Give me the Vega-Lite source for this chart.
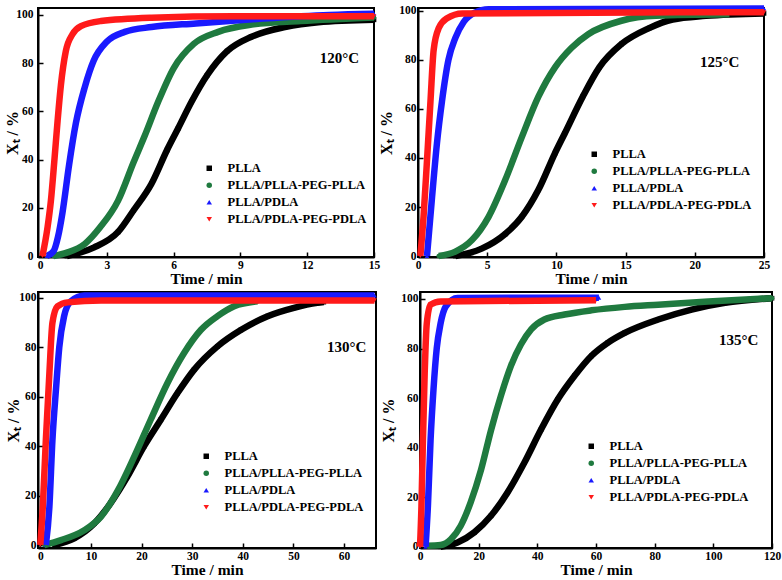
{
"$schema": "https://vega.github.io/schema/vega-lite/v6.json",
"background": "white",
"padding": {"left": 3, "top": -6, "right": 0, "bottom": 0},
"config": {
  "font": "Liberation Serif",
  "view": {"stroke": "black", "strokeWidth": 2},
  "axis": {"grid": false, "domainColor": "black", "domainWidth": 2, "tickColor": "black", "tickWidth": 1.5, "tickSize": -5,
    "labelFont": "Liberation Serif", "labelFontWeight": "bold", "labelFontSize": 11.5, "labelColor": "black", "labelPadding": 7,
    "labelFlush": false, "labelOverlap": false,
    "titleFont": "Liberation Serif", "titleFontWeight": "bold", "titleColor": "black"},
  "axisX": {"titleFontSize": 15.5, "titlePadding": 1},
  "axisY": {"titleFontSize": 16, "titlePadding": 4},
  "legend": {"labelFont": "Liberation Serif", "labelFontWeight": "bold", "labelFontSize": 12.5, "labelColor": "black",
    "symbolSize": 30, "symbolStrokeWidth": 0, "rowPadding": 4, "labelOffset": 12, "padding": 0}
},
"datasets": {
  "p120": [
    {"s":"PLLA","t":1.2,"x":0},{"s":"PLLA","t":2.4,"x":3.5},{"s":"PLLA","t":3.5,"x":10},{"s":"PLLA","t":4.2,"x":19},{"s":"PLLA","t":5.0,"x":30},{"s":"PLLA","t":5.7,"x":44},{"s":"PLLA","t":6.2,"x":53},{"s":"PLLA","t":6.8,"x":64},{"s":"PLLA","t":7.5,"x":75},{"s":"PLLA","t":8.4,"x":85},{"s":"PLLA","t":9.5,"x":91},{"s":"PLLA","t":11,"x":95},{"s":"PLLA","t":12.5,"x":97},{"s":"PLLA","t":15,"x":98},
    {"s":"PLLA/PLLA-PEG-PLLA","t":0.6,"x":0},{"s":"PLLA/PLLA-PEG-PLLA","t":1.2,"x":1.4},{"s":"PLLA/PLLA-PEG-PLLA","t":2.0,"x":5},{"s":"PLLA/PLLA-PEG-PLLA","t":2.7,"x":12},{"s":"PLLA/PLLA-PEG-PLLA","t":3.5,"x":23},{"s":"PLLA/PLLA-PEG-PLLA","t":4.2,"x":39},{"s":"PLLA/PLLA-PEG-PLLA","t":4.7,"x":50},{"s":"PLLA/PLLA-PEG-PLLA","t":5.3,"x":64},{"s":"PLLA/PLLA-PEG-PLLA","t":6.0,"x":78},{"s":"PLLA/PLLA-PEG-PLLA","t":6.9,"x":88},{"s":"PLLA/PLLA-PEG-PLLA","t":8,"x":93},{"s":"PLLA/PLLA-PEG-PLLA","t":9.5,"x":96},{"s":"PLLA/PLLA-PEG-PLLA","t":11.7,"x":97.5},{"s":"PLLA/PLLA-PEG-PLLA","t":15,"x":99},
    {"s":"PLLA/PDLA","t":0.3,"x":0},{"s":"PLLA/PDLA","t":0.6,"x":2},{"s":"PLLA/PDLA","t":0.8,"x":8},{"s":"PLLA/PDLA","t":1.0,"x":18},{"s":"PLLA/PDLA","t":1.3,"x":38},{"s":"PLLA/PDLA","t":1.6,"x":55},{"s":"PLLA/PDLA","t":2.0,"x":70},{"s":"PLLA/PDLA","t":2.4,"x":81},{"s":"PLLA/PDLA","t":3.0,"x":89},{"s":"PLLA/PDLA","t":3.8,"x":93},{"s":"PLLA/PDLA","t":5,"x":95},{"s":"PLLA/PDLA","t":7,"x":96.5},{"s":"PLLA/PDLA","t":10,"x":98.5},{"s":"PLLA/PDLA","t":13,"x":100},{"s":"PLLA/PDLA","t":15,"x":100.5},
    {"s":"PLLA/PDLA-PEG-PDLA","t":0.1,"x":0},{"s":"PLLA/PDLA-PEG-PDLA","t":0.33,"x":12},{"s":"PLLA/PDLA-PEG-PDLA","t":0.48,"x":23},{"s":"PLLA/PDLA-PEG-PDLA","t":0.63,"x":39},{"s":"PLLA/PDLA-PEG-PDLA","t":0.78,"x":56},{"s":"PLLA/PDLA-PEG-PDLA","t":0.93,"x":71},{"s":"PLLA/PDLA-PEG-PDLA","t":1.15,"x":85},{"s":"PLLA/PDLA-PEG-PDLA","t":1.45,"x":92},{"s":"PLLA/PDLA-PEG-PDLA","t":1.83,"x":95.4},{"s":"PLLA/PDLA-PEG-PDLA","t":2.73,"x":97.5},{"s":"PLLA/PDLA-PEG-PDLA","t":5,"x":98.9},{"s":"PLLA/PDLA-PEG-PDLA","t":8.7,"x":99.5},{"s":"PLLA/PDLA-PEG-PDLA","t":15,"x":99.5}
  ],
  "p125": [
    {"s":"PLLA","t":2.7,"x":0},{"s":"PLLA","t":4.6,"x":3},{"s":"PLLA","t":6.3,"x":9},{"s":"PLLA","t":7.5,"x":16},{"s":"PLLA","t":8.7,"x":27},{"s":"PLLA","t":9.9,"x":42},{"s":"PLLA","t":10.6,"x":50},{"s":"PLLA","t":11.9,"x":65},{"s":"PLLA","t":13.1,"x":77},{"s":"PLLA","t":14.7,"x":86.5},{"s":"PLLA","t":16.7,"x":93},{"s":"PLLA","t":18.4,"x":96.5},{"s":"PLLA","t":20.8,"x":98},{"s":"PLLA","t":25,"x":99},
    {"s":"PLLA/PLLA-PEG-PLLA","t":1.5,"x":0},{"s":"PLLA/PLLA-PEG-PLLA","t":2.7,"x":1.8},{"s":"PLLA/PLLA-PEG-PLLA","t":3.9,"x":6.5},{"s":"PLLA/PLLA-PEG-PLLA","t":5.1,"x":16},{"s":"PLLA/PLLA-PEG-PLLA","t":6.3,"x":31},{"s":"PLLA/PLLA-PEG-PLLA","t":7.5,"x":48.5},{"s":"PLLA/PLLA-PEG-PLLA","t":8.7,"x":65},{"s":"PLLA/PLLA-PEG-PLLA","t":9.9,"x":77},{"s":"PLLA/PLLA-PEG-PLLA","t":11.1,"x":85},{"s":"PLLA/PLLA-PEG-PLLA","t":12.3,"x":90.5},{"s":"PLLA/PLLA-PEG-PLLA","t":14.7,"x":96},{"s":"PLLA/PLLA-PEG-PLLA","t":17.2,"x":98},{"s":"PLLA/PLLA-PEG-PLLA","t":22.5,"x":98.6},
    {"s":"PLLA/PDLA","t":0.65,"x":0},{"s":"PLLA/PDLA","t":1.0,"x":23},{"s":"PLLA/PDLA","t":1.37,"x":46},{"s":"PLLA/PDLA","t":1.73,"x":63},{"s":"PLLA/PDLA","t":2.2,"x":80},{"s":"PLLA/PDLA","t":2.7,"x":89},{"s":"PLLA/PDLA","t":3.3,"x":95.5},{"s":"PLLA/PDLA","t":4.1,"x":99.3},{"s":"PLLA/PDLA","t":5.1,"x":100.7},{"s":"PLLA/PDLA","t":25,"x":101},
    {"s":"PLLA/PDLA-PEG-PDLA","t":0.17,"x":0},{"s":"PLLA/PDLA-PEG-PDLA","t":0.4,"x":16},{"s":"PLLA/PDLA-PEG-PDLA","t":0.65,"x":39},{"s":"PLLA/PDLA-PEG-PDLA","t":0.9,"x":63},{"s":"PLLA/PDLA-PEG-PDLA","t":1.13,"x":84},{"s":"PLLA/PDLA-PEG-PDLA","t":1.5,"x":93},{"s":"PLLA/PDLA-PEG-PDLA","t":2.1,"x":97},{"s":"PLLA/PDLA-PEG-PDLA","t":3.2,"x":99},{"s":"PLLA/PDLA-PEG-PDLA","t":25,"x":99.5}
  ],
  "p130": [
    {"s":"PLLA","t":2.8,"x":0},{"s":"PLLA","t":6.7,"x":2.7},{"s":"PLLA","t":10.7,"x":8.8},{"s":"PLLA","t":13.9,"x":17},{"s":"PLLA","t":17.2,"x":27.7},{"s":"PLLA","t":20.5,"x":40},{"s":"PLLA","t":23.8,"x":50.7},{"s":"PLLA","t":27.1,"x":61.5},{"s":"PLLA","t":30.4,"x":71},{"s":"PLLA","t":35,"x":80.4},{"s":"PLLA","t":39.6,"x":87},{"s":"PLLA","t":44.9,"x":92.6},{"s":"PLLA","t":50.1,"x":96},{"s":"PLLA","t":54.7,"x":98},{"s":"PLLA","t":56,"x":98.3},
    {"s":"PLLA/PLLA-PEG-PLLA","t":0.8,"x":0},{"s":"PLLA/PLLA-PEG-PLLA","t":4.1,"x":2},{"s":"PLLA/PLLA-PEG-PLLA","t":8.7,"x":6},{"s":"PLLA/PLLA-PEG-PLLA","t":12,"x":11.5},{"s":"PLLA/PLLA-PEG-PLLA","t":15.3,"x":22},{"s":"PLLA/PLLA-PEG-PLLA","t":18.6,"x":36},{"s":"PLLA/PLLA-PEG-PLLA","t":21.8,"x":50.7},{"s":"PLLA/PLLA-PEG-PLLA","t":25.1,"x":65.5},{"s":"PLLA/PLLA-PEG-PLLA","t":28.4,"x":77.7},{"s":"PLLA/PLLA-PEG-PLLA","t":31.7,"x":87},{"s":"PLLA/PLLA-PEG-PLLA","t":35,"x":92.6},{"s":"PLLA/PLLA-PEG-PLLA","t":38.3,"x":96.6},{"s":"PLLA/PLLA-PEG-PLLA","t":42.9,"x":98.6},
    {"s":"PLLA/PDLA","t":1.1,"x":0},{"s":"PLLA/PDLA","t":1.8,"x":15.5},{"s":"PLLA/PDLA","t":2.4,"x":42.5},{"s":"PLLA/PDLA","t":3.1,"x":63},{"s":"PLLA/PDLA","t":3.75,"x":80},{"s":"PLLA/PDLA","t":4.7,"x":92.6},{"s":"PLLA/PDLA","t":6,"x":98.6},{"s":"PLLA/PDLA","t":8.7,"x":101},{"s":"PLLA/PDLA","t":66,"x":101},
    {"s":"PLLA/PDLA-PEG-PDLA","t":0,"x":0},{"s":"PLLA/PDLA-PEG-PDLA","t":0.5,"x":15.5},{"s":"PLLA/PDLA-PEG-PDLA","t":1.1,"x":42.5},{"s":"PLLA/PDLA-PEG-PDLA","t":1.8,"x":69.6},{"s":"PLLA/PDLA-PEG-PDLA","t":2.4,"x":90},{"s":"PLLA/PDLA-PEG-PDLA","t":3.4,"x":96.6},{"s":"PLLA/PDLA-PEG-PDLA","t":5.4,"x":98.2},{"s":"PLLA/PDLA-PEG-PDLA","t":12,"x":99},{"s":"PLLA/PDLA-PEG-PDLA","t":66,"x":99}
  ],
  "p135": [
    {"s":"PLLA","t":7,"x":0},{"s":"PLLA","t":12.8,"x":1.7},{"s":"PLLA","t":18.5,"x":5.8},{"s":"PLLA","t":24.2,"x":12.5},{"s":"PLLA","t":29.9,"x":22},{"s":"PLLA","t":35.6,"x":34},{"s":"PLLA","t":41.3,"x":47.4},{"s":"PLLA","t":47,"x":59.5},{"s":"PLLA","t":52.7,"x":69},{"s":"PLLA","t":58.4,"x":77},{"s":"PLLA","t":64,"x":82.3},{"s":"PLLA","t":69.8,"x":86.3},{"s":"PLLA","t":81.2,"x":91.7},{"s":"PLLA","t":92.6,"x":95.7},{"s":"PLLA","t":104,"x":98.4},{"s":"PLLA","t":120,"x":100.3},
    {"s":"PLLA/PLLA-PEG-PLLA","t":2.5,"x":0.4},{"s":"PLLA/PLLA-PEG-PLLA","t":7,"x":0.7},{"s":"PLLA/PLLA-PEG-PLLA","t":10.5,"x":3},{"s":"PLLA/PLLA-PEG-PLLA","t":13.9,"x":8.5},{"s":"PLLA/PLLA-PEG-PLLA","t":17.3,"x":18},{"s":"PLLA/PLLA-PEG-PLLA","t":20.8,"x":31},{"s":"PLLA/PLLA-PEG-PLLA","t":24.2,"x":47},{"s":"PLLA/PLLA-PEG-PLLA","t":27.6,"x":61},{"s":"PLLA/PLLA-PEG-PLLA","t":31,"x":73},{"s":"PLLA/PLLA-PEG-PLLA","t":34.4,"x":81.6},{"s":"PLLA/PLLA-PEG-PLLA","t":37.9,"x":87.7},{"s":"PLLA/PLLA-PEG-PLLA","t":42.4,"x":91.7},{"s":"PLLA/PLLA-PEG-PLLA","t":49.3,"x":93.7},{"s":"PLLA/PLLA-PEG-PLLA","t":58.4,"x":95.4},{"s":"PLLA/PLLA-PEG-PLLA","t":69.8,"x":96.8},{"s":"PLLA/PLLA-PEG-PLLA","t":81.2,"x":97.7},{"s":"PLLA/PLLA-PEG-PLLA","t":98.3,"x":99},{"s":"PLLA/PLLA-PEG-PLLA","t":120,"x":100.3},
    {"s":"PLLA/PDLA","t":1.9,"x":0},{"s":"PLLA/PDLA","t":2.7,"x":16.5},{"s":"PLLA/PDLA","t":3.6,"x":43},{"s":"PLLA/PDLA","t":4.6,"x":63.5},{"s":"PLLA/PDLA","t":5.7,"x":80},{"s":"PLLA/PDLA","t":7,"x":90},{"s":"PLLA/PDLA","t":8.8,"x":97},{"s":"PLLA/PDLA","t":12.8,"x":100.4},{"s":"PLLA/PDLA","t":61,"x":100.5},
    {"s":"PLLA/PDLA-PEG-PDLA","t":0,"x":0},{"s":"PLLA/PDLA-PEG-PDLA","t":0.5,"x":16.5},{"s":"PLLA/PDLA-PEG-PDLA","t":1,"x":43},{"s":"PLLA/PDLA-PEG-PDLA","t":1.6,"x":70},{"s":"PLLA/PDLA-PEG-PDLA","t":2.3,"x":90},{"s":"PLLA/PDLA-PEG-PDLA","t":3.6,"x":97.7},{"s":"PLLA/PDLA-PEG-PDLA","t":7,"x":99},{"s":"PLLA/PDLA-PEG-PDLA","t":60,"x":99.5}
  ]
},
"spacing": -7,
"resolve": {"scale": {"color": "independent", "shape": "independent"}, "legend": {"color": "independent", "shape": "independent"}},
"vconcat": [
 {"spacing": -11,
  "resolve": {"scale": {"color": "independent", "shape": "independent"}, "legend": {"color": "independent", "shape": "independent"}},
  "hconcat": [
  {"width": 336, "height": 249, "data": {"name": "p120"},
   "layer": [
    {"mark": {"type": "point", "filled": true, "size": 22, "opacity": 1},
     "encoding": {
      "x": {"field": "t", "type": "quantitative", "scale": {"domain": [-0.1, 15], "nice": false, "zero": false},
            "axis": {"title": "Time / min", "values": [0,1.5,3,4.5,6,7.5,9,10.5,12,13.5,15], "labelExpr": "datum.value % 3 === 0 ? datum.label : ''"}},
      "y": {"field": "x", "type": "quantitative", "scale": {"domain": [-0.4, 102.9], "nice": false, "zero": false},
            "axis": {"title": "Xₜ / %", "titlePadding": -5, "labelPadding": 10, "values": [0,10,20,30,40,50,60,70,80,90,100], "labelExpr": "datum.value % 20 === 0 ? datum.label : ''"}},
      "color": {"field": "s", "type": "nominal", "scale": {"domain": ["PLLA","PLLA/PLLA-PEG-PLLA","PLLA/PDLA","PLLA/PDLA-PEG-PDLA"], "range": ["#000000","#1f7a3f","#1a1aff","#ff1a1a"]}, "legend": {"title": null, "orient": "none", "legendX": 165, "legendY": 154}},
      "shape": {"field": "s", "type": "nominal", "scale": {"domain": ["PLLA","PLLA/PLLA-PEG-PLLA","PLLA/PDLA","PLLA/PDLA-PEG-PDLA"], "range": ["square","circle","triangle-up","triangle-down"]}, "legend": {"title": null, "orient": "none", "legendX": 165, "legendY": 154}}
     }},
    {"mark": {"type": "line", "strokeWidth": 6.5, "interpolate": "monotone"},
     "encoding": {
      "x": {"field": "t", "type": "quantitative"},
      "y": {"field": "x", "type": "quantitative"},
      "color": {"field": "s", "type": "nominal"}
     }},
    {"data": {"values": [{}]}, "mark": {"type": "text", "font": "Liberation Serif", "fontWeight": "bold", "fontSize": 15, "color": "black"},
     "encoding": {"x": {"datum": 13.45}, "y": {"datum": 82}, "text": {"value": "120°C"}}}
   ]},
  {"width": 346, "height": 249, "data": {"name": "p125"},
   "layer": [
    {"mark": {"type": "point", "filled": true, "size": 22, "opacity": 1},
     "encoding": {
      "x": {"field": "t", "type": "quantitative", "scale": {"domain": [0, 25], "nice": false, "zero": false},
            "axis": {"title": "Time / min", "values": [0,2.5,5,7.5,10,12.5,15,17.5,20,22.5,25], "labelExpr": "datum.value % 5 === 0 ? datum.label : ''"}},
      "y": {"field": "x", "type": "quantitative", "scale": {"domain": [-0.4, 101.2], "nice": false, "zero": false},
            "axis": {"title": "Xₜ / %", "titlePadding": 4, "values": [0,10,20,30,40,50,60,70,80,90,100], "labelExpr": "datum.value % 20 === 0 ? datum.label : ''"}},
      "color": {"field": "s", "type": "nominal", "scale": {"domain": ["PLLA","PLLA/PLLA-PEG-PLLA","PLLA/PDLA","PLLA/PDLA-PEG-PDLA"], "range": ["#000000","#1f7a3f","#1a1aff","#ff1a1a"]}, "legend": {"title": null, "orient": "none", "legendX": 170, "legendY": 140}},
      "shape": {"field": "s", "type": "nominal", "scale": {"domain": ["PLLA","PLLA/PLLA-PEG-PLLA","PLLA/PDLA","PLLA/PDLA-PEG-PDLA"], "range": ["square","circle","triangle-up","triangle-down"]}, "legend": {"title": null, "orient": "none", "legendX": 170, "legendY": 140}}
     }},
    {"mark": {"type": "line", "strokeWidth": 6.5, "interpolate": "monotone"},
     "encoding": {
      "x": {"field": "t", "type": "quantitative"},
      "y": {"field": "x", "type": "quantitative"},
      "color": {"field": "s", "type": "nominal"}
     }},
    {"data": {"values": [{}]}, "mark": {"type": "text", "font": "Liberation Serif", "fontWeight": "bold", "fontSize": 15, "color": "black"},
     "encoding": {"x": {"datum": 21.8}, "y": {"datum": 79}, "text": {"value": "125°C"}}}
   ]}
 ]},
 {"spacing": -10,
  "resolve": {"scale": {"color": "independent", "shape": "independent"}, "legend": {"color": "independent", "shape": "independent"}},
  "hconcat": [
  {"width": 338, "height": 256, "data": {"name": "p130"},
   "layer": [
    {"mark": {"type": "point", "filled": true, "size": 22, "opacity": 1},
     "encoding": {
      "x": {"field": "t", "type": "quantitative", "scale": {"domain": [-0.45, 66.3], "nice": false, "zero": false},
            "axis": {"title": "Time / min", "values": [0,5,10,15,20,25,30,35,40,45,50,55,60,65], "labelExpr": "datum.value % 10 === 0 ? datum.label : ''"}},
      "y": {"field": "x", "type": "quantitative", "scale": {"domain": [-1.2, 102.4], "nice": false, "zero": false},
            "axis": {"title": "Xₜ / %", "titlePadding": -3, "values": [0,10,20,30,40,50,60,70,80,90,100], "labelExpr": "datum.value % 20 === 0 ? datum.label : ''"}},
      "color": {"field": "s", "type": "nominal", "scale": {"domain": ["PLLA","PLLA/PLLA-PEG-PLLA","PLLA/PDLA","PLLA/PDLA-PEG-PDLA"], "range": ["#000000","#1f7a3f","#1a1aff","#ff1a1a"]}, "legend": {"title": null, "orient": "none", "legendX": 162, "legendY": 158}},
      "shape": {"field": "s", "type": "nominal", "scale": {"domain": ["PLLA","PLLA/PLLA-PEG-PLLA","PLLA/PDLA","PLLA/PDLA-PEG-PDLA"], "range": ["square","circle","triangle-up","triangle-down"]}, "legend": {"title": null, "orient": "none", "legendX": 162, "legendY": 158}}
     }},
    {"mark": {"type": "line", "strokeWidth": 6.5, "interpolate": "monotone"},
     "encoding": {
      "x": {"field": "t", "type": "quantitative"},
      "y": {"field": "x", "type": "quantitative"},
      "color": {"field": "s", "type": "nominal"}
     }},
    {"data": {"values": [{}]}, "mark": {"type": "text", "font": "Liberation Serif", "fontWeight": "bold", "fontSize": 15, "color": "black"},
     "encoding": {"x": {"datum": 60.5}, "y": {"datum": 80}, "text": {"value": "130°C"}}}
   ]},
  {"width": 352, "height": 256, "data": {"name": "p135"},
   "layer": [
    {"mark": {"type": "point", "filled": true, "size": 22, "opacity": 1},
     "encoding": {
      "x": {"field": "t", "type": "quantitative", "scale": {"domain": [0, 120], "nice": false, "zero": false},
            "axis": {"title": "Time / min", "values": [0,10,20,30,40,50,60,70,80,90,100,110,120], "labelExpr": "datum.value % 20 === 0 ? datum.label : ''"}},
      "y": {"field": "x", "type": "quantitative", "scale": {"domain": [-0.5, 102.8], "nice": false, "zero": false},
            "axis": {"title": "Xₜ / %", "titlePadding": 4, "values": [0,10,20,30,40,50,60,70,80,90,100], "labelExpr": "datum.value % 20 === 0 ? datum.label : ''"}},
      "color": {"field": "s", "type": "nominal", "scale": {"domain": ["PLLA","PLLA/PLLA-PEG-PLLA","PLLA/PDLA","PLLA/PDLA-PEG-PDLA"], "range": ["#000000","#1f7a3f","#1a1aff","#ff1a1a"]}, "legend": {"title": null, "orient": "none", "legendX": 165, "legendY": 148}},
      "shape": {"field": "s", "type": "nominal", "scale": {"domain": ["PLLA","PLLA/PLLA-PEG-PLLA","PLLA/PDLA","PLLA/PDLA-PEG-PDLA"], "range": ["square","circle","triangle-up","triangle-down"]}, "legend": {"title": null, "orient": "none", "legendX": 165, "legendY": 148}}
     }},
    {"mark": {"type": "line", "strokeWidth": 6.5, "interpolate": "monotone"},
     "encoding": {
      "x": {"field": "t", "type": "quantitative"},
      "y": {"field": "x", "type": "quantitative"},
      "color": {"field": "s", "type": "nominal"}
     }},
    {"data": {"values": [{}]}, "mark": {"type": "text", "font": "Liberation Serif", "fontWeight": "bold", "fontSize": 15, "color": "black"},
     "encoding": {"x": {"datum": 108.6}, "y": {"datum": 83.5}, "text": {"value": "135°C"}}}
   ]}
 ]}
]
}
